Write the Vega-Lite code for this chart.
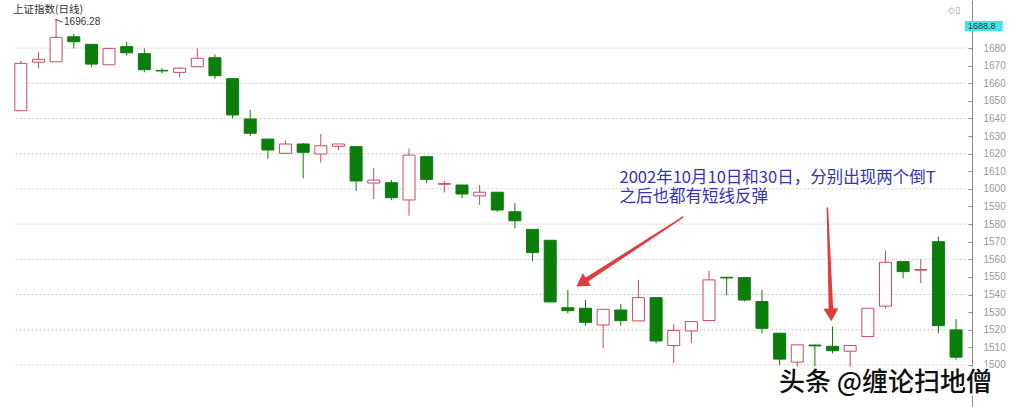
{
  "$schema": "https://vega.github.io/schema/vega-lite/v6.json",
  "width": 972,
  "height": 407,
  "autosize": {"type": "none"},
  "padding": {"left": 0, "top": 0, "right": 38, "bottom": 0},
  "background": "white",
  "datasets": {
    "kline": [
      {"i": 0, "o": 1644.4, "h": 1672.8, "l": 1644.4, "c": 1671.3},
      {"i": 1, "o": 1672.0, "h": 1677.6, "l": 1668.5, "c": 1673.6},
      {"i": 2, "o": 1672.2, "h": 1696.28, "l": 1672.2, "c": 1686.1},
      {"i": 3, "o": 1686.4, "h": 1688.0, "l": 1679.8, "c": 1683.6},
      {"i": 4, "o": 1682.1, "h": 1682.1, "l": 1669.0, "c": 1670.9},
      {"i": 5, "o": 1670.5, "h": 1679.8, "l": 1670.5, "c": 1679.8},
      {"i": 6, "o": 1680.8, "h": 1683.6, "l": 1675.9, "c": 1677.3},
      {"i": 7, "o": 1676.8, "h": 1679.8, "l": 1666.2, "c": 1667.7},
      {"i": 8, "o": 1667.3, "h": 1668.6, "l": 1665.6, "c": 1667.0},
      {"i": 9, "o": 1666.2, "h": 1669.0, "l": 1663.4, "c": 1668.6},
      {"i": 10, "o": 1669.4, "h": 1679.8, "l": 1669.4, "c": 1674.2},
      {"i": 11, "o": 1674.5, "h": 1676.4, "l": 1662.5, "c": 1664.3},
      {"i": 12, "o": 1662.6, "h": 1662.6, "l": 1640.0, "c": 1642.0},
      {"i": 13, "o": 1639.7, "h": 1644.8, "l": 1630.0, "c": 1631.6},
      {"i": 14, "o": 1628.3, "h": 1628.3, "l": 1617.1, "c": 1622.1},
      {"i": 15, "o": 1620.2, "h": 1627.4, "l": 1620.0, "c": 1625.5},
      {"i": 16, "o": 1625.5, "h": 1626.0, "l": 1606.0, "c": 1620.8},
      {"i": 17, "o": 1619.8, "h": 1631.2, "l": 1614.9, "c": 1624.5},
      {"i": 18, "o": 1624.2, "h": 1625.5, "l": 1622.0, "c": 1625.5},
      {"i": 19, "o": 1624.0, "h": 1624.0, "l": 1598.9, "c": 1604.5},
      {"i": 20, "o": 1603.3, "h": 1611.9, "l": 1594.2, "c": 1605.0},
      {"i": 21, "o": 1603.5, "h": 1605.0, "l": 1593.7, "c": 1595.0},
      {"i": 22, "o": 1593.7, "h": 1623.0, "l": 1584.8, "c": 1619.2},
      {"i": 23, "o": 1618.3, "h": 1618.3, "l": 1603.2, "c": 1605.4},
      {"i": 24, "o": 1602.6, "h": 1604.5, "l": 1597.9, "c": 1603.0},
      {"i": 25, "o": 1602.2, "h": 1602.2, "l": 1594.7, "c": 1597.1},
      {"i": 26, "o": 1596.0, "h": 1602.2, "l": 1590.9, "c": 1598.1},
      {"i": 27, "o": 1598.1, "h": 1598.1, "l": 1586.9, "c": 1588.0},
      {"i": 28, "o": 1587.0, "h": 1591.8, "l": 1577.6, "c": 1581.9},
      {"i": 29, "o": 1577.0, "h": 1577.0, "l": 1559.0, "c": 1563.8},
      {"i": 30, "o": 1570.8, "h": 1571.0, "l": 1535.8, "c": 1535.8},
      {"i": 31, "o": 1532.5, "h": 1542.6, "l": 1529.3, "c": 1530.8},
      {"i": 32, "o": 1532.2, "h": 1536.9, "l": 1522.3, "c": 1524.2},
      {"i": 33, "o": 1522.7, "h": 1531.6, "l": 1509.5, "c": 1531.6},
      {"i": 34, "o": 1531.2, "h": 1534.6, "l": 1522.3, "c": 1525.2},
      {"i": 35, "o": 1525.0, "h": 1548.3, "l": 1525.0, "c": 1538.2},
      {"i": 36, "o": 1538.2, "h": 1538.2, "l": 1512.2, "c": 1513.6},
      {"i": 37, "o": 1511.0, "h": 1523.3, "l": 1501.0, "c": 1519.6},
      {"i": 38, "o": 1519.3, "h": 1524.6, "l": 1512.5, "c": 1524.6},
      {"i": 39, "o": 1525.2, "h": 1553.5, "l": 1525.2, "c": 1548.3},
      {"i": 40, "o": 1549.8, "h": 1549.8, "l": 1539.6, "c": 1549.4},
      {"i": 41, "o": 1549.6, "h": 1550.0, "l": 1536.0, "c": 1536.9},
      {"i": 42, "o": 1536.0, "h": 1542.6, "l": 1518.0, "c": 1520.8},
      {"i": 43, "o": 1518.0, "h": 1518.0, "l": 1500.0, "c": 1503.3},
      {"i": 44, "o": 1501.6, "h": 1511.4, "l": 1499.0, "c": 1511.4},
      {"i": 45, "o": 1511.3, "h": 1511.5, "l": 1499.0, "c": 1510.8},
      {"i": 46, "o": 1510.6, "h": 1521.8, "l": 1506.5, "c": 1508.1},
      {"i": 47, "o": 1507.8, "h": 1511.0, "l": 1499.0, "c": 1511.0},
      {"i": 48, "o": 1516.1, "h": 1532.2, "l": 1516.1, "c": 1532.2},
      {"i": 49, "o": 1533.4, "h": 1565.1, "l": 1532.0, "c": 1558.3},
      {"i": 50, "o": 1558.7, "h": 1558.7, "l": 1549.2, "c": 1553.0},
      {"i": 51, "o": 1553.8, "h": 1560.0, "l": 1546.4, "c": 1554.2},
      {"i": 52, "o": 1570.0, "h": 1572.9, "l": 1518.0, "c": 1522.3},
      {"i": 53, "o": 1519.9, "h": 1526.0, "l": 1503.0, "c": 1504.4}
    ],
    "grid": [
      {"v": 1500}, {"v": 1520}, {"v": 1540}, {"v": 1560}, {"v": 1580},
      {"v": 1600}, {"v": 1620}, {"v": 1640}, {"v": 1660}, {"v": 1680}
    ],
    "arrows": [
      {"a": "A", "part": "tail", "i": 37.52, "v": 1584.0},
      {"a": "A", "part": "head", "i": 32.01, "v": 1548.0},
      {"a": "B", "part": "tail", "i": 45.71, "v": 1589.1},
      {"a": "B", "part": "head", "i": 45.91, "v": 1531.2}
    ]
  },
  "layer": [
    {
      "data": {"name": "grid"},
      "mark": {"type": "rule", "stroke": "#cccccc", "strokeDash": [2, 2], "strokeWidth": 1},
      "encoding": {
        "y": {
          "field": "v", "type": "quantitative",
          "scale": {"domain": [1476.1, 1707.3], "nice": false, "zero": false},
          "axis": {"orient": "right", "format": "d", "labelOverlap": false, "tickCount": 19, "values": [1500, 1510, 1520, 1530, 1540, 1550, 1560, 1570, 1580, 1590, 1600, 1610, 1620, 1630, 1640, 1650, 1660, 1670, 1680]}
        },
        "x": {"datum": -0.3, "type": "quantitative", "scale": {"domain": [-0.897, 53.62], "nice": false, "zero": false}},
        "x2": {"datum": 53.62}
      }
    },
    {
      "data": {"name": "kline"},
      "mark": {"type": "rule", "strokeWidth": 1},
      "encoding": {
        "x": {"field": "i", "type": "quantitative"},
        "y": {"field": "l", "type": "quantitative", "axis": {"orient": "right", "format": "d", "labelOverlap": false, "tickCount": 19, "values": [1500, 1510, 1520, 1530, 1540, 1550, 1560, 1570, 1580, 1590, 1600, 1610, 1620, 1630, 1640, 1650, 1660, 1670, 1680]}},
        "y2": {"field": "h"},
        "stroke": {"condition": {"test": "datum.c >= datum.o", "value": "#cc4b5a"}, "value": "#0b7d0b"}
      }
    },
    {
      "data": {"name": "kline"},
      "mark": {"type": "bar", "size": 12, "strokeWidth": 1},
      "encoding": {
        "x": {"field": "i", "type": "quantitative"},
        "y": {"field": "o", "type": "quantitative", "axis": {"orient": "right", "format": "d", "labelOverlap": false, "tickCount": 19, "values": [1500, 1510, 1520, 1530, 1540, 1550, 1560, 1570, 1580, 1590, 1600, 1610, 1620, 1630, 1640, 1650, 1660, 1670, 1680]}},
        "y2": {"field": "c"},
        "fill": {"condition": {"test": "datum.c >= datum.o", "value": "#ffffff"}, "value": "#0b7d0b"},
        "stroke": {"condition": {"test": "datum.c >= datum.o", "value": "#cc4b5a"}, "value": "#0b7d0b"}
      }
    },
    {
      "data": {"values": [{"t": "上证指数(日线)"}]},
      "mark": {"type": "text", "align": "left", "baseline": "middle", "font": "Noto Sans CJK SC", "fontSize": 10.5, "color": "#333333"},
      "encoding": {
        "x": {"datum": -0.45, "type": "quantitative"},
        "y": {"datum": 1701.6, "type": "quantitative", "axis": {"orient": "right", "format": "d", "labelOverlap": false, "tickCount": 19, "values": [1500, 1510, 1520, 1530, 1540, 1550, 1560, 1570, 1580, 1590, 1600, 1610, 1620, 1630, 1640, 1650, 1660, 1670, 1680]}},
        "text": {"field": "t"}
      }
    },
    {
      "data": {"values": [{"t": "1696.28"}]},
      "mark": {"type": "text", "align": "left", "baseline": "middle", "font": "Liberation Sans", "fontSize": 10, "color": "#333333"},
      "encoding": {
        "x": {"datum": 2.45, "type": "quantitative"},
        "y": {"datum": 1694.6, "type": "quantitative", "axis": {"orient": "right", "format": "d", "labelOverlap": false, "tickCount": 19, "values": [1500, 1510, 1520, 1530, 1540, 1550, 1560, 1570, 1580, 1590, 1600, 1610, 1620, 1630, 1640, 1650, 1660, 1670, 1680]}},
        "text": {"field": "t"}
      }
    },
    {
      "data": {"values": [{}]},
      "mark": {"type": "rule", "stroke": "#444444", "strokeWidth": 1},
      "encoding": {
        "x": {"datum": 1.95, "type": "quantitative"},
        "x2": {"datum": 2.35},
        "y": {"datum": 1696.3, "type": "quantitative", "axis": {"orient": "right", "format": "d", "labelOverlap": false, "tickCount": 19, "values": [1500, 1510, 1520, 1530, 1540, 1550, 1560, 1570, 1580, 1590, 1600, 1610, 1620, 1630, 1640, 1650, 1660, 1670, 1680]}},
        "y2": {"datum": 1694.8}
      }
    },
    {
      "data": {"values": [{"t": "2002年10月10日和30日，分别出现两个倒T\n之后也都有短线反弹"}]},
      "mark": {"type": "text", "align": "left", "baseline": "top", "lineBreak": "\n", "lineHeight": 19, "font": "Noto Sans CJK SC", "fontSize": 16.5, "color": "#3434b4"},
      "encoding": {
        "x": {"datum": 33.93, "type": "quantitative"},
        "y": {"datum": 1610.5, "type": "quantitative", "axis": {"orient": "right", "format": "d", "labelOverlap": false, "tickCount": 19, "values": [1500, 1510, 1520, 1530, 1540, 1550, 1560, 1570, 1580, 1590, 1600, 1610, 1620, 1630, 1640, 1650, 1660, 1670, 1680]}},
        "text": {"field": "t"}
      }
    },
    {
      "data": {"name": "arrows"},
      "mark": {"type": "trail", "color": "#e53a3a"},
      "encoding": {
        "x": {"field": "i", "type": "quantitative"},
        "y": {"field": "v", "type": "quantitative", "axis": {"orient": "right", "format": "d", "labelOverlap": false, "tickCount": 19, "values": [1500, 1510, 1520, 1530, 1540, 1550, 1560, 1570, 1580, 1590, 1600, 1610, 1620, 1630, 1640, 1650, 1660, 1670, 1680]}},
        "detail": {"field": "a"},
        "size": {"field": "part", "type": "ordinal", "scale": {"domain": ["tail", "head"], "range": [1.5, 4.5]}, "legend": null}
      }
    },
    {
      "data": {"values": [{}]},
      "mark": {"type": "point", "shape": "triangle-up", "filled": true, "size": 220, "angle": 237, "color": "#e53a3a", "opacity": 1},
      "encoding": {
        "x": {"datum": 31.78, "type": "quantitative"},
        "y": {"datum": 1546.5, "type": "quantitative", "axis": {"orient": "right", "format": "d", "labelOverlap": false, "tickCount": 19, "values": [1500, 1510, 1520, 1530, 1540, 1550, 1560, 1570, 1580, 1590, 1600, 1610, 1620, 1630, 1640, 1650, 1660, 1670, 1680]}}
      }
    },
    {
      "data": {"values": [{}]},
      "mark": {"type": "point", "shape": "triangle-up", "filled": true, "size": 220, "angle": 178, "color": "#e53a3a", "opacity": 1},
      "encoding": {
        "x": {"datum": 45.92, "type": "quantitative"},
        "y": {"datum": 1528.4, "type": "quantitative", "axis": {"orient": "right", "format": "d", "labelOverlap": false, "tickCount": 19, "values": [1500, 1510, 1520, 1530, 1540, 1550, 1560, 1570, 1580, 1590, 1600, 1610, 1620, 1630, 1640, 1650, 1660, 1670, 1680]}}
      }
    },
    {
      "data": {"values": [{}]},
      "mark": {"type": "rect", "color": "#3ee6e6"},
      "encoding": {
        "x": {"datum": 53.5, "type": "quantitative"},
        "x2": {"datum": 55.64},
        "y": {"datum": 1695.3, "type": "quantitative", "axis": {"orient": "right", "format": "d", "labelOverlap": false, "tickCount": 19, "values": [1500, 1510, 1520, 1530, 1540, 1550, 1560, 1570, 1580, 1590, 1600, 1610, 1620, 1630, 1640, 1650, 1660, 1670, 1680]}},
        "y2": {"datum": 1689.65}
      }
    },
    {
      "data": {"values": [{"t": "1688.8"}]},
      "mark": {"type": "text", "align": "left", "baseline": "middle", "font": "Liberation Sans", "fontSize": 9, "color": "#333333"},
      "encoding": {
        "x": {"datum": 53.68, "type": "quantitative"},
        "y": {"datum": 1692.5, "type": "quantitative", "axis": {"orient": "right", "format": "d", "labelOverlap": false, "tickCount": 19, "values": [1500, 1510, 1520, 1530, 1540, 1550, 1560, 1570, 1580, 1590, 1600, 1610, 1620, 1630, 1640, 1650, 1660, 1670, 1680]}},
        "text": {"field": "t"}
      }
    },
    {
      "data": {"values": [{"t": "◇▯"}]},
      "mark": {"type": "text", "align": "left", "baseline": "middle", "font": "DejaVu Sans", "fontSize": 9, "color": "#9a9a9a"},
      "encoding": {
        "x": {"datum": 52.55, "type": "quantitative"},
        "y": {"datum": 1701.8, "type": "quantitative", "axis": {"orient": "right", "format": "d", "labelOverlap": false, "tickCount": 19, "values": [1500, 1510, 1520, 1530, 1540, 1550, 1560, 1570, 1580, 1590, 1600, 1610, 1620, 1630, 1640, 1650, 1660, 1670, 1680]}},
        "text": {"field": "t"}
      }
    },
    {
      "data": {"values": [{"t": "头条 @缠论扫地僧"}]},
      "mark": {"type": "text", "align": "left", "baseline": "middle", "font": "Noto Sans CJK SC", "fontSize": 26, "color": "#ffffff", "stroke": "#ffffff", "strokeWidth": 4},
      "encoding": {
        "x": {"datum": 42.96, "type": "quantitative"},
        "y": {"datum": 1489.5, "type": "quantitative", "axis": {"orient": "right", "format": "d", "labelOverlap": false, "tickCount": 19, "values": [1500, 1510, 1520, 1530, 1540, 1550, 1560, 1570, 1580, 1590, 1600, 1610, 1620, 1630, 1640, 1650, 1660, 1670, 1680]}},
        "text": {"field": "t"}
      }
    },
    {
      "data": {"values": [{"t": "头条 @缠论扫地僧"}]},
      "mark": {"type": "text", "align": "left", "baseline": "middle", "font": "Noto Sans CJK SC", "fontSize": 26, "fontWeight": 500, "color": "#111111"},
      "encoding": {
        "x": {"datum": 42.96, "type": "quantitative"},
        "y": {"datum": 1489.5, "type": "quantitative", "axis": {"orient": "right", "format": "d", "labelOverlap": false, "tickCount": 19, "values": [1500, 1510, 1520, 1530, 1540, 1550, 1560, 1570, 1580, 1590, 1600, 1610, 1620, 1630, 1640, 1650, 1660, 1670, 1680]}},
        "text": {"field": "t"}
      }
    }
  ],
  "config": {
    "view": {"stroke": null},
    "axisX": {"disable": true},
    "axisY": {
      "title": null, "grid": false,
      "domainColor": "#8c8c8c", "tickColor": "#8c8c8c", "tickSize": -4,
      "labelPadding": 15, "labelColor": "#9a9a9a", "labelFontSize": 10,
      "labelFont": "Liberation Sans", "labelFlush": false
    }
  }
}
